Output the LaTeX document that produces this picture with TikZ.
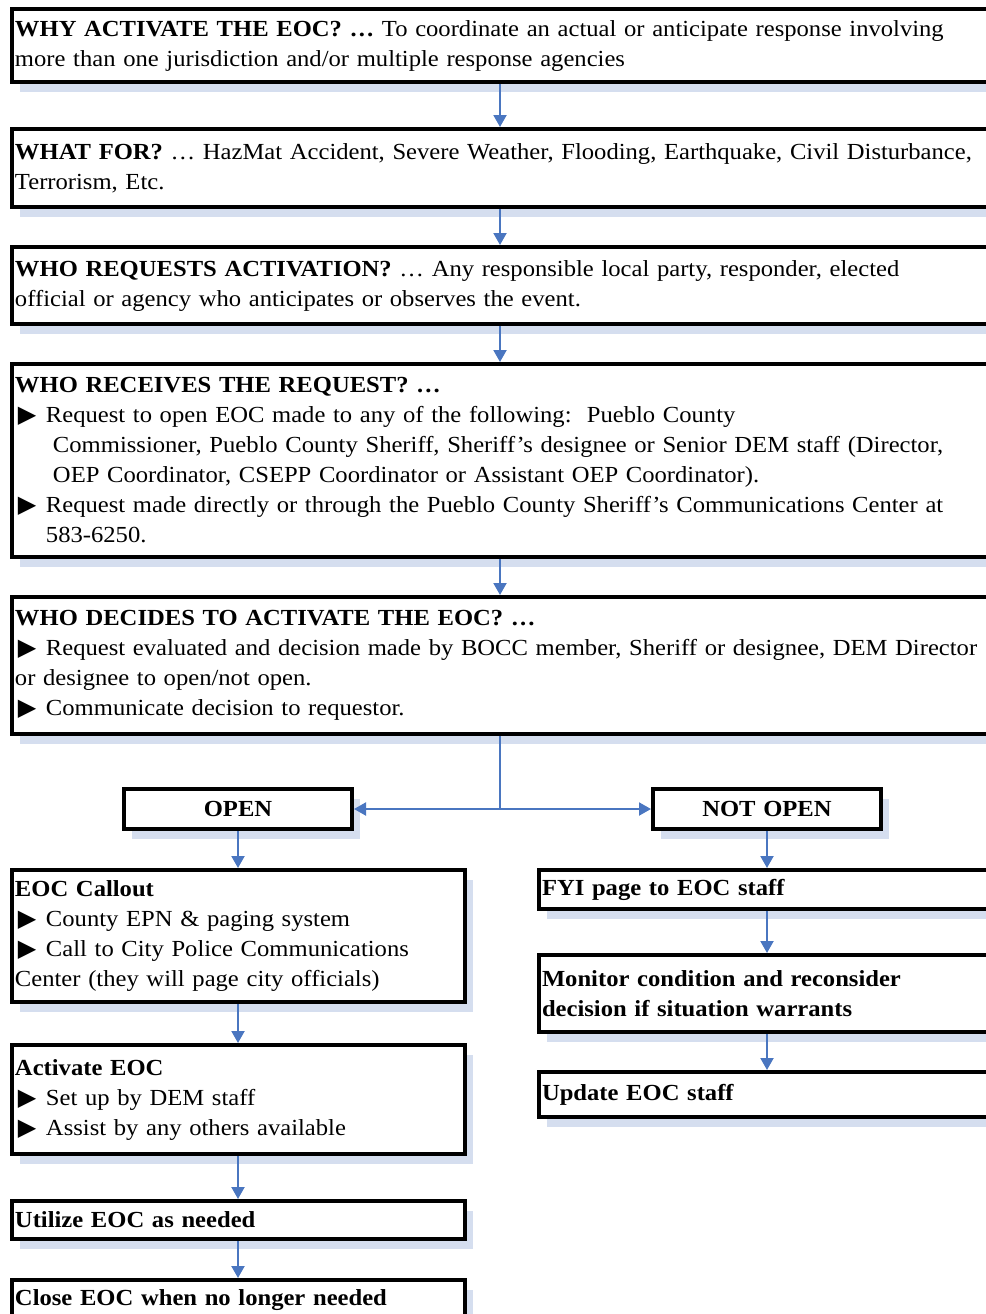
\documentclass[tikz,border=0pt]{standalone}
\usepackage{fontspec}
\setmainfont{Liberation Serif}[FakeStretch=1.07]
\newfontfamily\symfont{DejaVu Sans}
\usepackage{tikz}
\usetikzlibrary{arrows.meta,shadows,positioning}
\definecolor{flowblue}{HTML}{4A76C0}
\definecolor{shadeblue}{HTML}{D5DEEF}
% bullet used in the lists
\newcommand{\tri}{\makebox[15.5pt][l]{\hspace*{1.5pt}{\symfont\fontsize{12}{15}\selectfont ▶}}}
\newcommand{\ind}{\hspace*{19pt}}

\begin{document}
\begin{tikzpicture}[x=0.5pt, y=-0.5pt,
    box/.style={draw, line width=2pt, fill=white, anchor=north west, align=left,
      inner xsep=1.5pt, inner ysep=0pt, font=\fontsize{11.5}{15}\selectfont,
      general shadow={fill=shadeblue, shadow xshift=4pt, shadow yshift=-5pt}},
    wide/.style={box, text width=520pt},
    leftbox/.style={box, text width=223.5pt},
    rightbox/.style={box, text width=250pt, font=\fontsize{11.5}{15}\selectfont\bfseries},
    choice/.style={box, align=center, text width=111pt, font=\fontsize{11.5}{15}\selectfont\bfseries},
    flow/.style={draw=flowblue, line width=1pt, -{Triangle[width=6.5pt,length=6pt]}}]

    \useasboundingbox (0,0) rectangle (986,1314);
    \clip (0,0) rectangle (986,1314);

    % Top chain of questions
    \node[wide, minimum height=36.5pt] (why) at (10,7)
      {\textbf{WHY ACTIVATE THE EOC? …} To coordinate an actual or anticipate response involving\\
       more than one jurisdiction and/or multiple response agencies};
    \node[wide, minimum height=39pt] (what) at (10,127)
      {\textbf{WHAT FOR?} … HazMat Accident, Severe Weather, Flooding, Earthquake, Civil Disturbance,\\
       Terrorism, Etc.};
    \node[wide, minimum height=38.5pt] (requests) at (10,245)
      {\textbf{WHO REQUESTS ACTIVATION?} … Any responsible local party, responder, elected\\
       official or agency who anticipates or observes the event.};
    \node[wide, minimum height=96.5pt] (receives) at (10,362)
      {\textbf{WHO RECEIVES THE REQUEST? …}\\
       \tri Request to open EOC made to any of the following:\ \ Pueblo County\\
       \ind Commissioner, Pueblo County Sheriff, Sheriff’s designee or Senior DEM staff (Director,\\
       \ind OEP Coordinator, CSEPP Coordinator or Assistant OEP Coordinator).\\
       \tri Request made directly or through the Pueblo County Sheriff’s Communications Center at\\
       \hspace*{15.5pt}583-6250.};
    \node[wide, minimum height=68.5pt] (decides) at (10,595)
      {\textbf{WHO DECIDES TO ACTIVATE THE EOC? …}\\
       \tri Request evaluated and decision made by BOCC member, Sheriff or designee, DEM Director\\
       or designee to open/not open.\\
       \tri Communicate decision to requestor.};

    % Decision
    \node[choice, minimum width=114pt, minimum height=20pt] (open) at (122,787) {OPEN};
    \node[choice, minimum width=114pt, minimum height=20pt] (notopen) at (651,787) {NOT OPEN};

    % Open branch
    \node[leftbox, minimum height=66pt] (callout) at (10,868)
      {\textbf{EOC Callout}\\
       \tri County EPN \& paging system\\
       \tri Call to City Police Communications\\
       Center (they will page city officials)};
    \node[leftbox, minimum height=54.5pt] (activate) at (10,1043)
      {\textbf{Activate EOC}\\
       \tri Set up by DEM staff\\
       \tri Assist by any others available};
    \node[leftbox, minimum height=19pt] (utilize) at (10,1199) {\textbf{Utilize EOC as needed}};
    \node[leftbox, minimum height=20pt] (close) at (10,1278) {\textbf{Close EOC when no longer needed}};

    % Not open branch
    \node[rightbox, minimum height=19.5pt] (fyi) at (537,868) {FYI page to EOC staff};
    \node[rightbox, minimum height=38.5pt] (monitor) at (537,953)
      {Monitor condition and reconsider\\ decision if situation warrants};
    \node[rightbox, minimum height=22.5pt] (update) at (537,1070) {Update EOC staff};

    % Connectors
    \coordinate (mid) at (500,0);
    \coordinate (split) at (mid |- open.east);
    \draw[flow] (why.south -| mid) -- (what.north -| mid);
    \draw[flow] (what.south -| mid) -- (requests.north -| mid);
    \draw[flow] (requests.south -| mid) -- (receives.north -| mid);
    \draw[flow] (receives.south -| mid) -- (decides.north -| mid);
    \draw[draw=flowblue, line width=1pt] (decides.south -| mid) -- (split);
    \draw[flow] (split) -- (open.east);
    \draw[flow] (split) -- (notopen.west);
    \draw[flow] (open.south) -- (callout.north -| open);
    \draw[flow] (callout.south -| open) -- (activate.north -| open);
    \draw[flow] (activate.south -| open) -- (utilize.north -| open);
    \draw[flow] (utilize.south -| open) -- (close.north -| open);
    \draw[flow] (notopen.south) -- (fyi.north -| notopen);
    \draw[flow] (fyi.south -| notopen) -- (monitor.north -| notopen);
    \draw[flow] (monitor.south -| notopen) -- (update.north -| notopen);
\end{tikzpicture}
\end{document}
